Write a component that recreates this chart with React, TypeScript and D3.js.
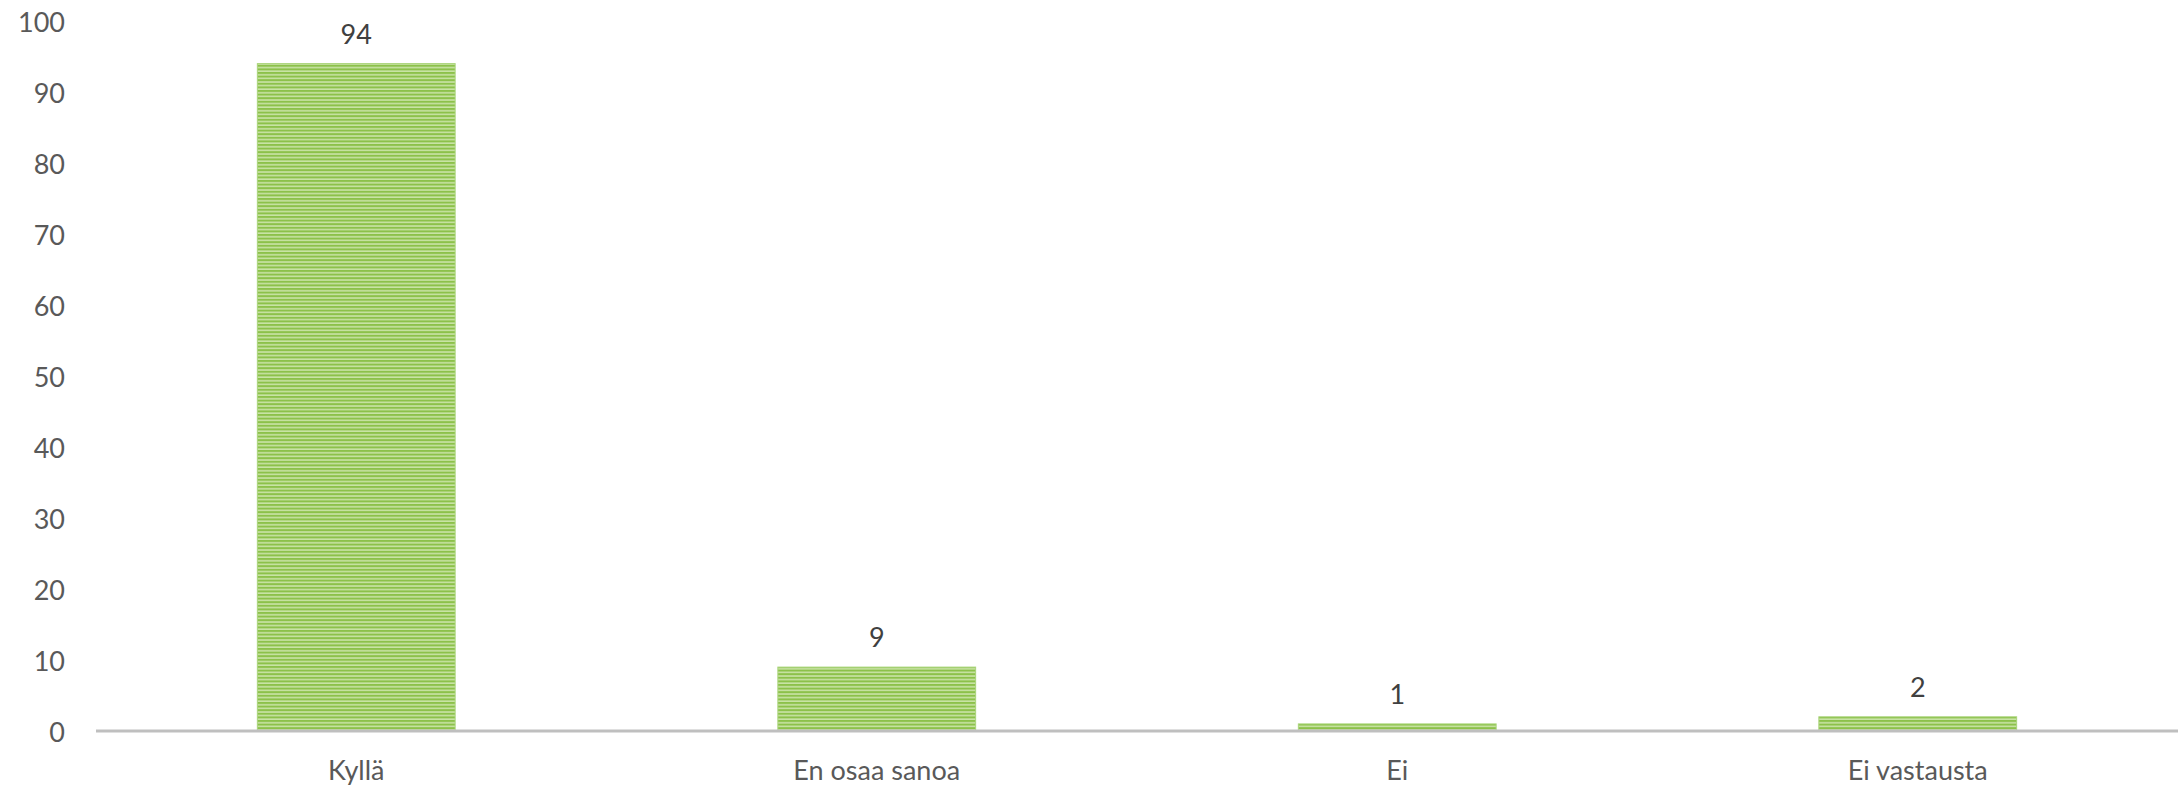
import React from "react";
import * as d3 from "d3";

const categories: string[] = ["Kyllä", "En osaa sanoa", "Ei", "Ei vastausta"];
const values: number[] = [94, 9, 1, 2];
const yTicks: number[] = [0, 10, 20, 30, 40, 50, 60, 70, 80, 90, 100];

const W = 2181;
const H = 788;
const M = { left: 96, right: 3, top: 21, bottom: 57 };

export default function App() {
  const x = d3
    .scaleBand<string>()
    .domain(categories)
    .range([M.left, W - M.right])
    .padding(0);
  const y = d3
    .scaleLinear()
    .domain([0, 100])
    .range([H - M.bottom, M.top]);
  const barW = x.bandwidth() * 0.38;
  const font = "Lato, 'Open Sans', sans-serif";

  return (
    <svg
      width={W}
      height={H}
      style={{ position: "absolute", left: 0, top: 0, display: "block", background: "#fff" }}
    >
      <defs>
        <pattern id="stripes" width={8} height={3.6} patternUnits="userSpaceOnUse">
          <rect x={0} y={0} width={8} height={3.6} fill="#c9e3a6" />
          <rect x={0} y={0} width={8} height={2} fill="#8cc14a" />
        </pattern>
      </defs>
      {yTicks.map((t) => (
        <text
          key={t}
          x={65}
          y={y(t)}
          textAnchor="end"
          dominantBaseline="central"
          fontFamily={font}
          fontSize={27}
          fill="#595959"
        >
          {t}
        </text>
      ))}
      {categories.map((c, i) => {
        const cx = (x(c) as number) + x.bandwidth() / 2;
        const yTop = y(values[i]);
        return (
          <g key={c}>
            <rect
              x={cx - barW / 2}
              y={yTop}
              width={barW}
              height={y(0) - yTop}
              fill="url(#stripes)"
              stroke="#a9d47a"
              strokeWidth={1}
            />
            <text
              x={cx}
              y={yTop - 20}
              textAnchor="middle"
              fontFamily={font}
              fontSize={27}
              fill="#404040"
            >
              {values[i]}
            </text>
            <text
              x={cx}
              y={780}
              textAnchor="middle"
              fontFamily={font}
              fontSize={27}
              fill="#595959"
            >
              {c}
            </text>
          </g>
        );
      })}
      <line
        x1={M.left}
        x2={W - M.right}
        y1={y(0)}
        y2={y(0)}
        stroke="#bfbfbf"
        strokeWidth={3}
      />
    </svg>
  );
}
